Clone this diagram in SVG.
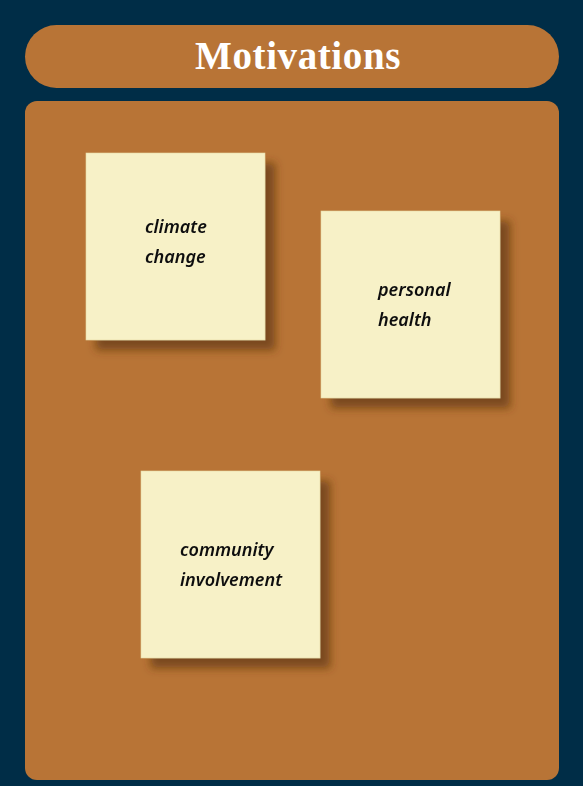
<svg xmlns="http://www.w3.org/2000/svg" width="583" height="786" viewBox="0 0 583 786">
  <defs>
    <filter id="noteShadow" x="-20%" y="-20%" width="150%" height="150%">
      <feGaussianBlur in="SourceAlpha" stdDeviation="4"/>
      <feOffset dx="10" dy="10" result="blur"/>
      <feFlood flood-color="#5a3310" flood-opacity="0.65"/>
      <feComposite in2="blur" operator="in"/>
      <feMerge>
        <feMergeNode/>
        <feMergeNode in="SourceGraphic"/>
      </feMerge>
    </filter>
  </defs>
  <style>
    .board { fill: #b87436; }
    .note { fill: #f7f1c7; stroke: #e6d9a6; stroke-width: 0.6; }
    .title { font-family: "Liberation Serif", "DejaVu Serif", serif; font-weight: bold; font-size: 39px; letter-spacing: 0.6px; fill: #ffffff; }
    .hand { font-family: "Noto Sans", "DejaVu Sans", sans-serif; font-style: italic; font-weight: 600; font-size: 18px; fill: #111111; }
  </style>

  <rect width="583" height="786" fill="#002d47"/>

  <g id="header">
    <rect class="board" x="25" y="25" width="534" height="63" rx="31.5"/>
    <text class="title" x="298" y="69" text-anchor="middle">Motivations</text>
  </g>

  <g id="panel">
    <rect class="board" x="25" y="101" width="534" height="679" rx="12"/>
  </g>

  <g id="note-climate" filter="url(#noteShadow)">
    <rect class="note" x="86" y="153" width="179" height="187"/>
    <text class="hand" x="145" y="233">climate</text>
    <text class="hand" x="145" y="263">change</text>
  </g>

  <g id="note-health" filter="url(#noteShadow)">
    <rect class="note" x="321" y="211" width="179" height="187"/>
    <text class="hand" x="378" y="296">personal</text>
    <text class="hand" x="378" y="326">health</text>
  </g>

  <g id="note-community" filter="url(#noteShadow)">
    <rect class="note" x="141" y="471" width="179" height="187"/>
    <text class="hand" x="180" y="556">community</text>
    <text class="hand" x="180" y="586">involvement</text>
  </g>

  <g id="connectors"/>
</svg>
